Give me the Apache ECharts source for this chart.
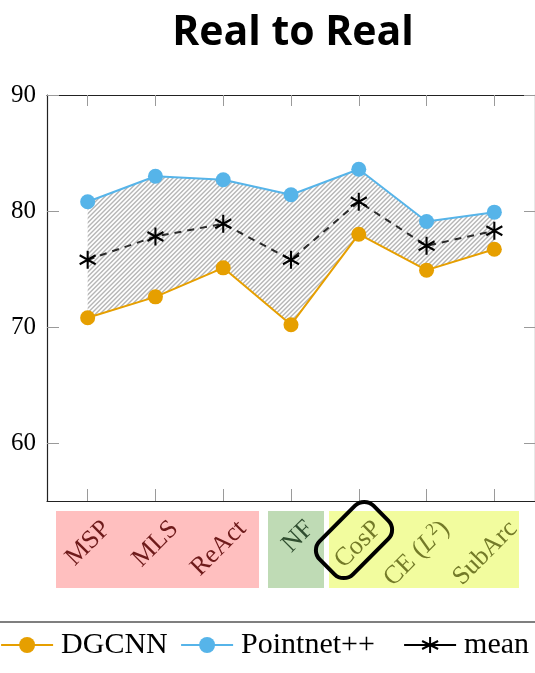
<!DOCTYPE html>
<html>
<head>
<meta charset="utf-8">
<script src="https://cdn.jsdelivr.net/npm/echarts@6/dist/echarts.min.js"></script>
<style>
  html, body { margin: 0; padding: 0; background: #fff; }
  #chart { width: 535px; height: 673px; }
</style>
</head>
<body>
<div id="chart"></div>
<script>
// Accuracy per OOD method, real-to-real setting
const methods = ['MSP', 'MLS', 'ReAct', 'NF', 'CosP', 'CE (L2)', 'SubArc'];
const methodGroup = ['r', 'r', 'r', 'g', 'y', 'y', 'y'];
const dgcnn = [70.8, 72.6, 75.1, 70.2, 78.0, 74.9, 76.7];
const pointnet = [80.8, 83.0, 82.7, 81.4, 83.6, 79.1, 79.9];
const meanVals = [75.8, 77.8, 78.9, 75.8, 80.8, 77.0, 78.3];
const yTicks = [60, 70, 80, 90];

const SERIF = 'Liberation Serif';
const idx = methods.map((_, i) => i);
const labelPos = idx.map(i => i + 0.28);

// diagonal hatch tile for the band between the two networks
function hatchTile() {
  const s = 9, c = document.createElement('canvas');
  c.width = s; c.height = s;
  const g = c.getContext('2d');
  g.strokeStyle = '#b6b6b6';
  g.lineWidth = 1.4;
  for (let k = 0; k <= 4; k++) {
    const o = k * 4.5;
    g.beginPath();
    g.moveTo(-2, o + 2);
    g.lineTo(s + 2, o - s - 2);
    g.stroke();
  }
  return c;
}
const tile = hatchTile();

function labelText(v) {
  const i = Math.round(v);
  const grp = methodGroup[i];
  if (methods[i] === 'CE (L2)') {
    return '{' + grp + '|CE (}{' + grp + 'i|L}{' + grp + 's|2}{' + grp + '|)}';
  }
  return '{' + grp + '|' + methods[i] + '}';
}

const labelRich = {
  r: { color: '#6e1a1a', fontFamily: SERIF, fontSize: 26 },
  g: { color: '#2f4d2f', fontFamily: SERIF, fontSize: 26 },
  y: { color: '#737a28', fontFamily: SERIF, fontSize: 26 },
  yi: { color: '#737a28', fontFamily: SERIF, fontSize: 26, fontStyle: 'italic' },
  ys: { color: '#737a28', fontFamily: SERIF, fontSize: 17, verticalAlign: 'bottom', padding: [0, 0, 12, 1] }
};

const star = 'path://M0,-10L0,10M-8.66,-5L8.66,5M-8.66,5L8.66,-5';

const chart = echarts.init(document.getElementById('chart'), null, { renderer: 'canvas' });

const frameLine = { show: true, onZero: false, lineStyle: { color: '#222', width: 1.2 } };
const tickStyle = { color: '#9a9a9a', width: 1 };

const legendBase = {
  top: 630,
  padding: 0,
  itemWidth: 52,
  itemHeight: 20,
  lineStyle: { width: 2.2 },
  textStyle: { fontFamily: SERIF, fontSize: 30, color: '#000', padding: [0, 0, 0, 3] }
};

chart.setOption({
  animation: false,
  title: {
    text: 'Real to Real',
    left: 288,
    textAlign: 'center',
    top: 8,
    textStyle: { fontFamily: 'Open Sans', fontWeight: 'bold', fontSize: 41, color: '#000' }
  },
  grid: { left: 47, top: 95, width: 490, height: 406, containLabel: false },
  xAxis: [
    {
      type: 'value', min: -0.6, max: 6.6, position: 'bottom',
      axisLine: frameLine,
      splitLine: { show: false },
      axisTick: { show: true, inside: true, length: 12, customValues: idx, lineStyle: tickStyle },
      axisLabel: {
        customValues: labelPos, rotate: 45, margin: 24,
        align: 'right', verticalAlign: 'middle',
        formatter: labelText, rich: labelRich
      }
    },
    {
      type: 'value', min: -0.6, max: 6.6, position: 'top',
      axisLine: frameLine,
      splitLine: { show: false },
      axisTick: { show: true, inside: true, length: 11, customValues: idx, lineStyle: tickStyle },
      axisLabel: { show: false }
    }
  ],
  yAxis: [
    {
      type: 'value', min: 55, max: 90, position: 'left',
      axisLine: frameLine,
      splitLine: { show: false },
      axisTick: { show: true, inside: true, length: 12, customValues: yTicks, lineStyle: tickStyle },
      axisLabel: { customValues: yTicks, margin: 11, fontFamily: SERIF, fontSize: 25, color: '#000' }
    },
    {
      type: 'value', min: 55, max: 90, position: 'right',
      axisLine: frameLine,
      splitLine: { show: false },
      axisTick: { show: true, inside: true, length: 11, customValues: yTicks, lineStyle: tickStyle },
      axisLabel: { show: false }
    }
  ],
  legend: [
    Object.assign({ left: 0, data: ['DGCNN'] }, legendBase),
    Object.assign({ left: 180, data: ['Pointnet++'] }, legendBase),
    Object.assign({ left: 403, data: [{ name: 'mean', lineStyle: { type: 'solid', color: '#000', width: 2.2 } }] }, legendBase)
  ],
  series: [
    {
      type: 'custom',
      name: 'band',
      silent: true,
      z: 1,
      data: [[0, pointnet[0]]],
      renderItem: function (params, api) {
        const upper = pointnet.map((v, i) => api.coord([i, v]));
        const lower = dgcnn.map((v, i) => api.coord([i, v])).reverse();
        return {
          type: 'polygon',
          shape: { points: upper.concat(lower) },
          style: { fill: { image: tile, repeat: 'repeat' }, stroke: null }
        };
      }
    },
    {
      type: 'line',
      name: 'DGCNN',
      z: 3,
      data: dgcnn.map((v, i) => [i, v]),
      symbol: 'circle',
      symbolSize: 15,
      lineStyle: { color: '#e69f00', width: 2 },
      itemStyle: { color: '#e69f00' }
    },
    {
      type: 'line',
      name: 'Pointnet++',
      z: 3,
      data: pointnet.map((v, i) => [i, v]),
      symbol: 'circle',
      symbolSize: 15,
      lineStyle: { color: '#56b4e9', width: 2 },
      itemStyle: { color: '#56b4e9' }
    },
    {
      type: 'line',
      name: 'mean',
      z: 4,
      data: meanVals.map((v, i) => [i, v]),
      symbol: star,
      symbolSize: [16, 18],
      lineStyle: { color: '#2a2a2a', width: 2, type: [7, 6] },
      itemStyle: { color: '#000', borderColor: '#000', borderWidth: 2.2 }
    }
  ],
  graphic: [
    { type: 'rect', z: -1, shape: { x: 56, y: 511, width: 203, height: 77 }, style: { fill: '#ffbfbf' } },
    { type: 'rect', z: -1, shape: { x: 268, y: 511, width: 56, height: 77 }, style: { fill: '#bfdbb5' } },
    { type: 'rect', z: -1, shape: { x: 329, y: 511, width: 190, height: 77 }, style: { fill: '#f2fc9e' } },
    {
      type: 'rect', z: 100, x: 354, y: 540, rotation: Math.PI / 4,
      shape: { x: -38, y: -23.5, width: 76, height: 47, r: 13 },
      style: { fill: 'none', stroke: '#000', lineWidth: 4 }
    },
    { type: 'line', z: 100, shape: { x1: 0, y1: 622, x2: 535, y2: 622 }, style: { stroke: '#000', lineWidth: 1.2 } }
  ]
});
</script>
</body>
</html>
